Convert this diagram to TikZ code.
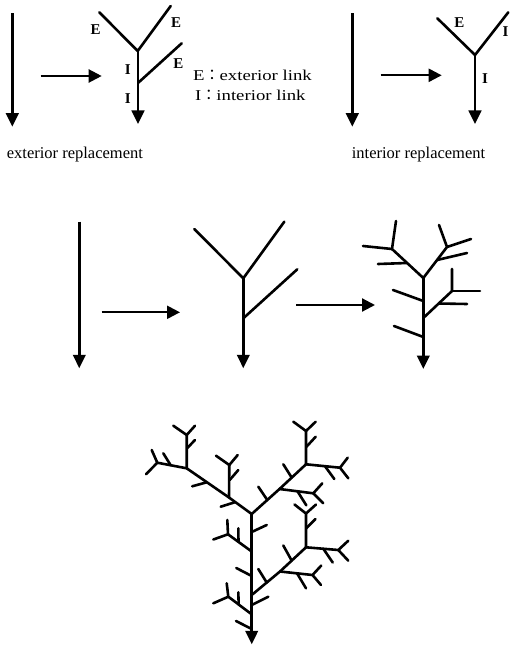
\documentclass[tikz,border=0pt]{standalone}
\usepackage{fontspec}
\setmainfont{Liberation Serif}
\newfontfamily\legendfont[FakeStretch=1.25]{Liberation Serif}
\newfontfamily\cjkfont{Noto Sans CJK JP}
\usetikzlibrary{arrows.meta}
\begin{document}
\begin{tikzpicture}[x=1pt,y=-1pt,
  link/.style={line width=2.6pt,line cap=round,line join=round},
  flow/.style={line width=2.6pt,-{Triangle[length=13.5pt,width=12.5pt]}},
  step arrow/.style={line width=2.2pt,-{Triangle[length=13pt,width=13pt]}},
  linklabel/.style={inner sep=0pt,font=\bfseries\fontsize{15}{15}\selectfont},
  caption/.style={inner sep=0pt,anchor=base west,font=\fontsize{16.5}{18}\selectfont},
  legend/.style={inner sep=0pt,anchor=base west,font=\legendfont\fontsize{15}{17}\selectfont}]
\useasboundingbox (0,0) rectangle (509,647);

% ---------- exterior replacement ----------
\draw[flow] (12.3,13.3) -- (12.3,126.7);
\draw[step arrow] (40.7,76) -- (101.7,76);
\draw[link] (99.3,12.3) -- (137.7,51) -- (170.7,6);
\draw[link] (138.3,82.7) -- (181.7,43.3);
\draw[flow] (138,51) -- (138,124);
\node[linklabel] at (95.7,30) {E};
\node[linklabel] at (176,22.7) {E};
\node[linklabel] at (178.3,63.3) {E};
\node[linklabel] at (127.7,70) {I};
\node[linklabel] at (127.7,98.3) {I};
\node[caption] (capext) at (6.7,158.3) {exterior replacement};

% legend
\node[legend] (legE) at (193,81) {E{\cjkfont ：}exterior link};
\node[legend] (legI) at (195,101) {I{\cjkfont ：}interior link};

% ---------- interior replacement ----------
\draw[flow] (352.3,13.3) -- (352.3,126.7);
\draw[step arrow] (380.7,75.3) -- (441.7,75.3);
\draw[link] (437.3,18.3) -- (475,55) -- (508.3,12.3);
\draw[flow] (475,55) -- (475,124);
\node[linklabel] at (459.3,22.7) {E};
\node[linklabel] at (505.5,31.7) {I};
\node[linklabel] at (485,78.3) {I};
\node[caption] (capint) at (351.7,158.3) {interior replacement};

% ---------- iterations 0, 1, 2 ----------
\draw[flow] (79.3,221.7) -- (79.3,368.3);
\draw[step arrow] (101.7,312.3) -- (180,312.3);

% first generation
\draw[link] (194.3,229) -- (243.3,278.3) -- (284.3,221.7);
\draw[link] (243.3,318.3) -- (297.3,269.3);
\draw[flow] (243.3,278.3) -- (243.3,368.3);

\draw[step arrow] (296,305) -- (375,305);

% second generation
\draw[flow] (423.3,278) -- (423.3,369);
\draw[link] (423.3,337) -- (394,326);
\draw[link] (423.3,301) -- (393,290);
\draw[link] (423.3,318) -- (452,291) -- (452,269);
\draw[link] (452,291) -- (480,291);
\draw[link] (439,303.5) -- (467,304);
\draw[link] (423.3,278) -- (392,249) -- (396,221);
\draw[link] (392,249) -- (363,246);
\draw[link] (407,263) -- (378,264);
\draw[link] (423.3,278) -- (447,247) -- (439,225);
\draw[link] (447,247) -- (471,239);
\draw[link] (437.1,260) -- (467,253);

% ---------- third generation ----------
\draw[flow] (251.7,514) -- (251.7,644.3);
% trunk side links
\draw[link] (251.7,532) -- (266.7,525);
\draw[link] (251.7,551.5) -- (228,534.3) -- (227.3,520);
\draw[link] (228,534.3) -- (213.3,539.5);
\draw[link] (238.5,541.9) -- (238.3,528.3);
\draw[link] (251.7,576) -- (236.3,568);
\draw[link] (251.7,605) -- (268.3,596.7);
\draw[link] (251.7,614.3) -- (228.3,596.7) -- (226.7,583.3);
\draw[link] (228.3,596.7) -- (213.3,603.3);
\draw[link] (238.7,604.5) -- (238.3,592.3);
\draw[link] (251.7,629) -- (236,621);

% lower right arm
\draw[link] (251.7,595) -- (280,571.5) -- (306,547.3);
\draw[link] (266.7,582.5) -- (258.3,569);
\draw[link] (280,571.5) -- (312.5,575) -- (321.3,565.5);
\draw[link] (312.5,575) -- (321,585);
\draw[link] (297,573.3) -- (306,588.3);
\draw[link] (291.7,560.6) -- (283.3,545.5);
\draw[link] (306,547.3) -- (306,513.5) -- (294.5,504.5);
\draw[link] (306,513.5) -- (316,504.5);
\draw[link] (306,528.5) -- (315.5,519);
\draw[link] (306,547.3) -- (338.3,550) -- (348.3,540.7);
\draw[link] (338.3,550) -- (348.3,560.7);
\draw[link] (323.3,548.7) -- (332.7,562.5);

% upper left arm
\draw[link] (251.7,514) -- (229,497.5) -- (186.7,468.3);
\draw[link] (235,502.2) -- (220.7,506.7);
\draw[link] (229,497.5) -- (229.3,465) -- (216,455.7);
\draw[link] (229.3,465) -- (237.7,455);
\draw[link] (229.7,480) -- (238.3,470);
\draw[link] (206.7,482.3) -- (192.2,486.3);
\draw[link] (186.7,468.3) -- (186.7,435) -- (173.3,425.7);
\draw[link] (186.7,435) -- (195,425.7);
\draw[link] (187,448.3) -- (195,440);
\draw[link] (186.7,468.3) -- (157.3,462.7) -- (151.7,450);
\draw[link] (157.3,462.7) -- (146,474.3);
\draw[link] (170.7,465.3) -- (163.3,453.3);

% upper right arm
\draw[link] (251.7,514) -- (279.5,489) -- (306,464.3);
\draw[link] (267.3,500) -- (258.3,486.7);
\draw[link] (279.5,489) -- (313.3,493.3) -- (322.3,483.3);
\draw[link] (313.3,493.3) -- (323.3,503.3);
\draw[link] (297.5,491.3) -- (306.3,505.3);
\draw[link] (291.7,477.6) -- (283.3,464.3);
\draw[link] (306,464.3) -- (306,431) -- (293.3,421.7);
\draw[link] (306,431) -- (315.7,421.7);
\draw[link] (306.5,446.7) -- (315.7,436.7);
\draw[link] (306,464.3) -- (340,467.7) -- (347.7,457.7);
\draw[link] (340,467.7) -- (348.3,478.3);
\draw[link] (325,466.2) -- (334.3,479);
\end{tikzpicture}
\end{document}
